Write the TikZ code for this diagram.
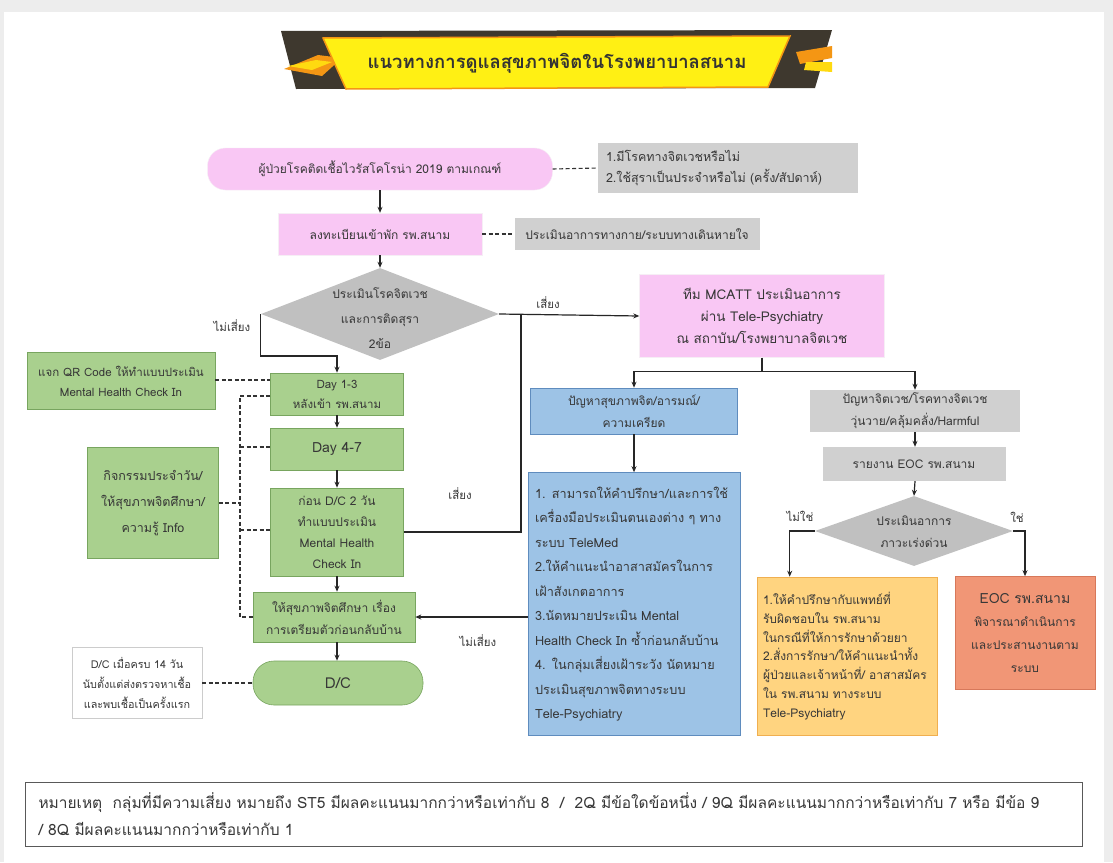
\documentclass[tikz,border=0pt]{standalone}
\usepackage{fontspec}
\newfontfamily\thaifont[Script=Thai]{Loma}
\usetikzlibrary{shapes.geometric,arrows.meta}

\definecolor{pinkfill}{RGB}{249,199,244}
\definecolor{grayfill}{RGB}{208,208,208}
\definecolor{diagray}{RGB}{192,192,192}
\definecolor{greenfill}{RGB}{169,208,142}
\definecolor{greenline}{RGB}{120,165,95}
\definecolor{bluefill}{RGB}{157,195,230}
\definecolor{blueline}{RGB}{95,140,190}
\definecolor{orangefill}{RGB}{255,212,128}
\definecolor{orangeline}{RGB}{240,175,80}
\definecolor{redfill}{RGB}{241,150,118}
\definecolor{redline}{RGB}{215,120,90}
\definecolor{textgray}{RGB}{55,55,55}
\definecolor{bannerdark}{RGB}{62,56,46}
\definecolor{banneryellow}{RGB}{255,240,20}
\definecolor{bannerorange}{RGB}{244,150,20}

\tikzset{
  txt/.style={font=\thaifont\fontsize{12}{22}\selectfont, text=textgray, align=center},
  pinkbox/.style={txt, fill=pinkfill, draw=pinkfill!85!black!20, inner sep=0pt},
  graybox/.style={txt, fill=grayfill, inner sep=0pt},
  greenbox/.style={txt, fill=greenfill, draw=greenline, line width=0.6pt, inner sep=0pt},
  bluebox/.style={txt, fill=bluefill, draw=blueline, line width=0.6pt, inner sep=0pt},
  decision/.style={diamond, aspect=2.6, fill=diagray, inner sep=0pt},
  arr/.style={-{Stealth[length=6pt,width=5pt]}, line width=1.2pt, draw=black!85},
  link/.style={line width=1.2pt, draw=black!85},
  dashline/.style={dashed, dash pattern=on 4pt off 2.5pt, line width=1.1pt, draw=black!80},
  lbl/.style={font=\thaifont\fontsize{11.5}{14}\selectfont, text=textgray}
}

\begin{document}
\begin{tikzpicture}[x=1pt,y=-1pt]
			%%%%% START %%%%%
			\useasboundingbox (0,0) rectangle (1113,862);
			\fill[black!7] (0,0) rectangle (1113,862);
			\fill[white] (4,12) rectangle (1104,862);

			% title banner
			\fill[bannerdark] (281,31) -- (832,30) -- (815,88) -- (296,89) -- cycle;
			\fill[bannerorange] (284,69) -- (318,55) -- (342,58) -- (322,76) -- cycle;
			\fill[banneryellow!80!orange] (288,66) -- (316,60) -- (332,62) -- (312,70) -- cycle;
			\fill[bannerorange] (796,52) -- (832,46) -- (832,58) -- (800,64) -- cycle;
			\fill[banneryellow!80!orange] (806,62) -- (832,62) -- (832,72) -- (804,70) -- cycle;
			\draw[fill=banneryellow, draw=bannerorange, line width=1.5pt] (323,38) -- (790,36) -- (768,87) -- (346,89) -- cycle;
			\node[font=\thaifont\bfseries\fontsize{18.5}{22}\selectfont, text=black!80] (title) at (557,63) {แนวทางการดูแลสุขภาพจิตในโรงพยาบาลสนาม};

			% top of the pathway
			\node[pinkbox, rounded corners=18pt, minimum width=345pt, minimum height=42pt] (patient) at (380,169) {ผู้ป่วยโรคติดเชื้อไวรัสโคโรน่า 2019 ตามเกณฑ์};
			\node[graybox, align=left, text width=244pt, minimum width=260pt, minimum height=50pt, font=\thaifont\fontsize{12.5}{21}\selectfont] (screen) at (728,168) {1.มีโรคทางจิตเวชหรือไม่\\2.ใช้สุราเป็นประจำหรือไม่ (ครั้ง/สัปดาห์)};
			\node[pinkbox, minimum width=204pt, minimum height=42pt] (register) at (380,234) {ลงทะเบียนเข้าพัก รพ.สนาม};
			\node[graybox, minimum width=245pt, minimum height=32pt, font=\thaifont\fontsize{12}{20}\selectfont] (physical) at (637,234) {ประเมินอาการทางกาย/ระบบทางเดินหายใจ};

			\node[decision, minimum width=238pt, minimum height=92pt] (assess) at (380,314) {};
			\node[txt, font=\thaifont\fontsize{12}{25}\selectfont] (assesstxt) at (380,318) {ประเมินโรคจิตเวช\\และการติดสุรา\\2ข้อ};

			\node[pinkbox, minimum width=245pt, minimum height=83pt, font=\thaifont\fontsize{13.5}{22}\selectfont] (mcatt) at (762,316) {ทีม MCATT ประเมินอาการ\\ผ่าน Tele-Psychiatry\\ณ สถาบัน/โรงพยาบาลจิตเวช};

			% left column
			\node[greenbox, minimum width=188pt, minimum height=57pt, font=\thaifont\fontsize{11.5}{20}\selectfont] (qrcode) at (121,381) {แจก QR Code ให้ทำแบบประเมิน\\Mental Health Check In};
			\node[greenbox, minimum width=133pt, minimum height=42pt, font=\thaifont\fontsize{11.5}{20}\selectfont] (day1) at (337,394) {Day 1-3\\หลังเข้า รพ.สนาม};
			\node[greenbox, minimum width=133pt, minimum height=42pt, font=\thaifont\fontsize{14}{20}\selectfont] (day4) at (337,449) {Day 4-7};
			\node[greenbox, minimum width=133pt, minimum height=88pt, font=\thaifont\fontsize{12}{21}\selectfont] (predc) at (337,532) {ก่อน D/C 2 วัน\\ทำแบบประเมิน\\Mental Health\\Check In};
			\node[greenbox, minimum width=131pt, minimum height=111pt, font=\thaifont\fontsize{12.5}{26}\selectfont] (activity) at (153,503) {กิจกรรมประจำวัน/\\ให้สุขภาพจิตศึกษา/\\ความรู้ Info};
			\node[greenbox, minimum width=162pt, minimum height=50pt] (edu) at (334,617) {ให้สุขภาพจิตศึกษา เรื่อง\\การเตรียมตัวก่อนกลับบ้าน};
			\node[greenbox, rounded corners=21pt, minimum width=170pt, minimum height=44pt, font=\thaifont\fontsize{15}{20}\selectfont] (dc) at (338,683) {D/C};
			\node[txt, draw=black!20, fill=white, minimum width=130pt, minimum height=71pt, inner sep=0pt, font=\thaifont\fontsize{10.8}{20}\selectfont] (dcnote) at (137,683) {D/C เมื่อครบ 14 วัน\\นับตั้งแต่ส่งตรวจหาเชื้อ\\และพบเชื้อเป็นครั้งแรก};

			% middle column
			\node[bluebox, minimum width=207pt, minimum height=46pt] (mood) at (634,411) {ปัญหาสุขภาพจิต/อารมณ์/\\ความเครียด};
			\node[bluebox, align=left, text width=198pt, minimum width=212pt, minimum height=263pt, font=\thaifont\fontsize{12.7}{24.5}\selectfont] (telemed) at (634,604) {1. สามารถให้คำปรึกษา/และการใช้\\เครื่องมือประเมินตนเองต่าง ๆ ทาง\\ระบบ TeleMed\\2.ให้คำแนะนำอาสาสมัครในการ\\เฝ้าสังเกตอาการ\\3.นัดหมายประเมิน Mental\\Health Check In ซ้ำก่อนกลับบ้าน\\4. ในกลุ่มเสี่ยงเฝ้าระวัง นัดหมาย\\ประเมินสุขภาพจิตทางระบบ\\Tele-Psychiatry};

			% right column
			\node[graybox, minimum width=210pt, minimum height=42pt] (psych) at (915,411) {ปัญหาจิตเวช/โรคทางจิตเวช\\วุ่นวาย/คลุ้มคลั่ง/Harmful};
			\node[graybox, minimum width=183pt, minimum height=34pt] (report) at (914,464) {รายงาน EOC รพ.สนาม};
			\node[decision, minimum width=198pt, minimum height=70pt, aspect=2.8] (urgent) at (914,531) {};
			\node[txt] (urgenttxt) at (914,532) {ประเมินอาการ\\ภาวะเร่งด่วน};
			\node[txt, fill=orangefill, draw=orangeline, line width=0.6pt, inner sep=0pt, align=left, text width=168pt, minimum width=180pt, minimum height=158pt, font=\thaifont\fontsize{12}{18.8}\selectfont] (consult) at (847,656) {1.ให้คำปรึกษากับแพทย์ที่\\รับผิดชอบใน รพ.สนาม\\ในกรณีที่ให้การรักษาด้วยยา\\2.สั่งการรักษา/ให้คำแนะนำทั้ง\\ผู้ป่วยและเจ้าหน้าที่/ อาสาสมัคร\\ใน รพ.สนาม ทางระบบ\\Tele-Psychiatry};
			\node[txt, fill=redfill, draw=redline, line width=0.6pt, inner sep=0pt, minimum width=140pt, minimum height=113pt, font=\thaifont\fontsize{12}{23}\selectfont] (eoc) at (1025,633) {{\fontsize{14}{23}\selectfont EOC รพ.สนาม}\\พิจารณาดำเนินการ\\และประสานงานตาม\\ระบบ};

			% remark
			\node[draw=black!65, line width=0.8pt, fill=white, minimum width=1057pt, minimum height=64pt, inner sep=0pt, text width=1030pt, align=left, text=textgray, font=\thaifont\fontsize{15.5}{27}\selectfont] (remark) at (553.5,814) {หมายเหตุ \ กลุ่มที่มีความเสี่ยง หมายถึง ST5 มีผลคะแนนมากกว่าหรือเท่ากับ 8 \ / \ 2Q มีข้อใดข้อหนึ่ง / 9Q มีผลคะแนนมากกว่าหรือเท่ากับ 7 หรือ มีข้อ 9\\/ 8Q มีผลคะแนนมากกว่าหรือเท่ากับ 1};

			% connectors
			\draw[dashline] (patient.east) -- (screen.west);
			\draw[arr] (patient.south) -- (register.north);
			\draw[dashline] (register.east) -- (physical.west);
			\draw[arr] (register.south) -- (assess.north);
			\draw[arr] (assess.west) -- ++(0,42) -| (day1.north);
			\draw[arr] (assess.east) -- (mcatt.west);
			\coordinate (riskjoin) at (521,314);
			\draw[link] (predc.east) -| (riskjoin);

			\draw[link] (mcatt.south) -- ++(0,14) coordinate (mcattfork);
			\draw[arr] (mcattfork) -| (mood.north);
			\draw[arr] (mcattfork) -| (psych.north);
			\draw[arr] (mood.south) -- (telemed.north);
			\draw[arr] (telemed.west |- edu.east) -- (edu.east);

			\draw[arr] (day1.south) -- (day4.north);
			\draw[arr] (day4.south) -- (predc.north);
			\draw[arr] (predc.south) -- (day4.south |- edu.north);
			\draw[arr] (day4.south |- edu.south) -- (day4.south |- dc.north);

			\coordinate (vtop) at (240,396);
			\coordinate (vday4) at (240,447);
			\coordinate (vpre) at (240,530);
			\coordinate (vbot) at (240,617);
			\draw[dashline] (qrcode.east |- 0,380) -- (day1.west |- 0,380);
			\draw[dashline] (day1.west |- vtop) -- (vtop) -- (vbot) -- (edu.west);
			\draw[dashline] (vday4) -- (day4.west |- vday4);
			\draw[dashline] (vpre) -- (predc.west |- vpre);
			\draw[dashline] (activity.east) -- (activity.east -| vtop);
			\draw[dashline] (dcnote.east) -- (dc.west);

			\draw[arr] (psych.south) -- (psych.south |- report.north);
			\draw[arr] (psych.south |- report.south) -- (urgent.north);
			\draw[arr] (urgent.west) -| ([xshift=33pt]consult.north west);
			\draw[arr] (urgent.east) -| (eoc.north);

			% labels
			\node[lbl] (norisk1) at (232,326) {ไม่เสี่ยง};
			\node[lbl] (risk1) at (548,303) {เสี่ยง};
			\node[lbl] (risk2) at (460,494) {เสี่ยง};
			\node[lbl] (norisk2) at (478,641) {ไม่เสี่ยง};
			\node[lbl] (notyes) at (800,516) {ไม่ใช่};
			\node[lbl] (yes) at (1017,517) {ใช่};
			%%%%% END %%%%%
\end{tikzpicture}
\end{document}
